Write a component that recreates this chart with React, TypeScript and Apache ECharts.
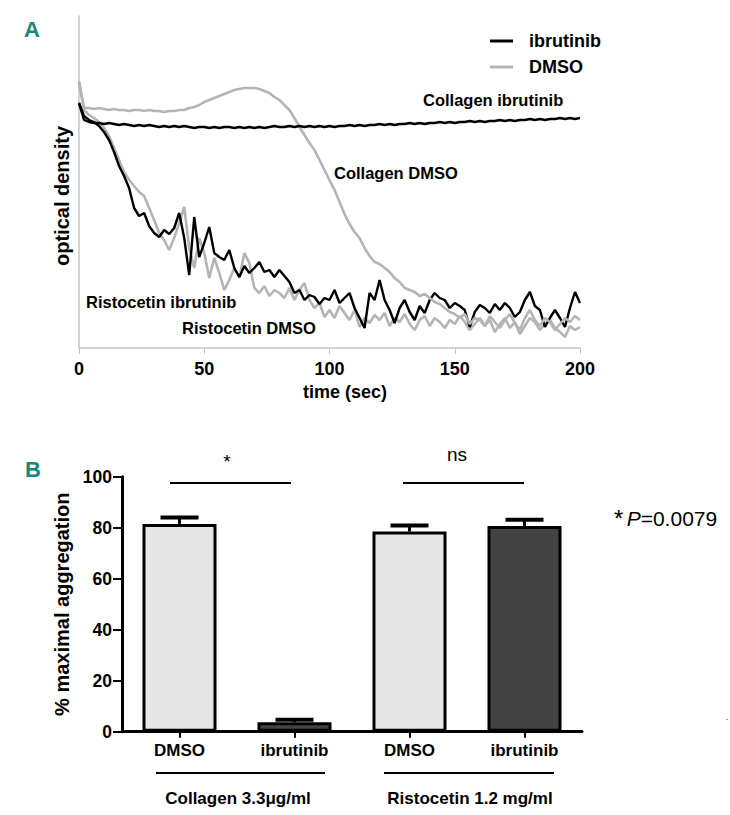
import React, { useEffect, useRef } from "react";
import * as echarts from "echarts";

// ---------- Panel A: aggregation traces (optical density, arbitrary units) ----------
const TIME_STEP = 2; // seconds between samples
const X_TICKS_A = [0, 50, 100, 150, 200];

const RISTO_IBRUTINIB = [
  245, 232, 228, 226, 222, 216, 208, 196, 182, 172,
  160, 140, 132, 135, 122, 115, 111, 118, 114, 120,
  135, 110, 73, 131, 91, 105, 121, 95, 91, 88,
  98, 80, 71, 82, 75, 80, 86, 76, 78, 71,
  78, 72, 66, 55, 58, 48, 53, 51, 44, 50,
  48, 58, 45, 50, 55, 40, 30, 20, 55, 48,
  68, 48, 38, 25, 40, 48, 36, 28, 42, 35,
  48, 55, 50, 48, 40, 45, 42, 38, 21, 36,
  43, 40, 35, 44, 38, 45, 40, 31, 36, 48,
  56, 42, 38, 21, 30, 38, 30, 21, 40, 56,
  45,
];

const RISTO_DMSO = [
  265, 238, 233, 230, 226, 220, 212, 200, 188, 176,
  168, 162, 156, 152, 140, 128, 115, 108, 98, 110,
  125, 141, 100, 80, 110, 95, 70, 90, 75, 58,
  68, 80, 70, 95, 85, 60, 55, 62, 52, 58,
  55, 50, 60, 48, 58, 65, 48, 40, 45, 31,
  38, 30, 42, 35, 28, 38, 21, 30, 25, 33,
  28, 35, 22, 30, 26, 34, 24, 18, 28, 32,
  22, 30, 26, 20, 28, 24, 32, 26, 18, 24,
  30, 22, 28, 16, 24, 30, 20, 26, 14, 22,
  30, 26, 18, 24, 28, 20, 16, 11, 22, 18,
  21,
];

const COLLAGEN_DMSO = [
  267, 240, 240, 239, 240, 239, 238, 239, 238, 238,
  237, 238, 238, 237, 238, 237, 237, 236, 237, 237,
  238, 238, 240, 241, 243, 246, 248, 250, 252, 254,
  256, 258, 259, 260, 260, 260, 259, 257, 255, 251,
  248, 243, 238, 230, 221, 213, 205, 198, 188, 178,
  168, 158, 146, 134, 124, 116, 110, 100, 92, 86,
  84, 80, 76, 70, 66, 60, 58, 56, 52, 54,
  50, 46, 44, 40, 36, 34, 30, 34, 24, 30,
  28, 22, 32, 26, 20, 28, 34, 25, 18, 30,
  38, 28, 22, 30, 26, 18, 24, 30, 26, 32,
  28,
];

const COLLAGEN_IBRUTINIB = [
  245, 228, 226, 225, 225, 224, 225, 224, 223, 224,
  223, 222, 223, 222, 223, 222, 221, 222, 221, 222,
  221, 222, 221, 220, 221, 221, 220, 221, 220, 221,
  221, 220, 221, 220, 221, 220, 221, 220, 221, 222,
  221, 221, 222, 221, 222, 221, 222, 221, 222, 221,
  222, 221, 222, 222, 223, 222, 223, 222, 223, 223,
  224, 223, 224, 223, 224, 224, 225, 224, 225, 224,
  225, 225, 226, 225, 226, 225, 226, 226, 227, 226,
  227, 226, 227, 227, 228, 227, 228, 227, 228, 228,
  229, 228, 229, 228, 229, 229, 230, 229, 230, 229,
  230,
];

// ---------- Panel B: % maximal aggregation ----------
const BAR_CATEGORIES = ["DMSO", "ibrutinib", "DMSO ", "ibrutinib "];
const BAR_LABELS = ["DMSO", "ibrutinib", "DMSO", "ibrutinib"];
const BAR_MEANS = [81.5, 3.7, 78.5, 80.7];
const BAR_ERRORS = [2.5, 1.0, 2.4, 2.4];
const BAR_COLORS = ["#e6e6e6", "#434343", "#e6e6e6", "#434343"];
const Y_TICKS_B = [0, 20, 40, 60, 80, 100];

const FONT = "'Liberation Sans', Arial, sans-serif";
const TEAL = "#17877f";
const GREY = "#b4b4b4";

const toPairs = (arr: number[]) => arr.map((v, i) => [i * TIME_STEP, v]);

export default function App() {
  const ref = useRef<HTMLDivElement>(null);

  useEffect(() => {
    if (!ref.current) return;
    const chart = echarts.init(ref.current, undefined, { renderer: "svg" });

    const lineCommon = {
      type: "line" as const,
      xAxisIndex: 0,
      yAxisIndex: 0,
      showSymbol: false,
      symbol: "none",
      smooth: false,
    };

    const boldText = (
      text: string,
      x: number,
      y: number,
      size: number,
      align: string = "left",
      extra: any = {}
    ) => ({
      type: "text",
      x,
      y,
      style: {
        text,
        fontSize: size,
        fontWeight: "bold",
        fontFamily: FONT,
        fill: "#000",
        textAlign: align,
        textVerticalAlign: "middle",
        ...extra,
      },
    });

    const hLine = (x1: number, x2: number, y: number, w = 2) => ({
      type: "line",
      shape: { x1, y1: y, x2, y2: y },
      style: { stroke: "#000", lineWidth: w },
    });

    const option: any = {
      animation: false,
      backgroundColor: "#fff",
      textStyle: { fontFamily: FONT },
      legend: {
        data: ["ibrutinib", "DMSO"],
        orient: "vertical",
        left: 485,
        top: 27,
        icon: "rect",
        itemWidth: 23,
        itemHeight: 3,
        itemGap: 8,
        textStyle: {
          fontSize: 18,
          fontWeight: "bold",
          color: "#000",
          fontFamily: FONT,
          padding: [0, 0, 0, 11],
        },
      },
      grid: [
        { left: 79, width: 501, top: 16, height: 332 },
        { left: 122, width: 460, top: 476.7, height: 255 },
      ],
      xAxis: [
        {
          type: "value",
          gridIndex: 0,
          min: X_TICKS_A[0],
          max: X_TICKS_A[X_TICKS_A.length - 1],
          interval: 50,
          axisLine: { show: true, lineStyle: { color: "#c4c4c4", width: 1.5 } },
          axisTick: { show: true, length: 6, lineStyle: { color: "#c4c4c4", width: 1 } },
          axisLabel: {
            fontSize: 18,
            fontWeight: "bold",
            color: "#000",
            margin: 12,
            fontFamily: FONT,
          },
          splitLine: { show: false },
        },
        {
          type: "category",
          gridIndex: 1,
          data: BAR_CATEGORIES,
          axisLine: { show: true, lineStyle: { color: "#000", width: 3 } },
          axisTick: {
            show: true,
            alignWithLabel: true,
            length: 6,
            lineStyle: { color: "#000", width: 2 },
          },
          axisLabel: {
            fontSize: 17,
            fontWeight: "bold",
            color: "#000",
            margin: 10,
            fontFamily: FONT,
            formatter: (_v: string, i: number) => BAR_LABELS[i],
          },
        },
      ],
      yAxis: [
        {
          type: "value",
          gridIndex: 0,
          min: 0,
          max: 332,
          axisLine: { show: true, lineStyle: { color: "#c4c4c4", width: 1.5 } },
          axisTick: { show: false },
          axisLabel: { show: false },
          splitLine: { show: false },
        },
        {
          type: "value",
          gridIndex: 1,
          min: Y_TICKS_B[0],
          max: Y_TICKS_B[Y_TICKS_B.length - 1],
          interval: 20,
          name: "% maximal aggregation",
          nameLocation: "middle",
          nameRotate: 90,
          nameGap: 41,
          nameTextStyle: {
            fontSize: 20,
            fontWeight: "bold",
            color: "#000",
            fontFamily: FONT,
          },
          axisLine: { show: true, lineStyle: { color: "#000", width: 3 } },
          axisTick: { show: true, length: 9, lineStyle: { color: "#000", width: 2 } },
          axisLabel: {
            fontSize: 17.5,
            fontWeight: "bold",
            color: "#000",
            margin: 10,
            fontFamily: FONT,
          },
          splitLine: { show: false },
        },
      ],
      series: [
        {
          ...lineCommon,
          name: "DMSO",
          color: GREY,
          lineStyle: { color: GREY, width: 2.6 },
          data: toPairs(RISTO_DMSO),
        },
        {
          ...lineCommon,
          name: "ibrutinib",
          color: "#000",
          lineStyle: { color: "#000", width: 2.4 },
          data: toPairs(RISTO_IBRUTINIB),
        },
        {
          ...lineCommon,
          name: "DMSO",
          color: GREY,
          lineStyle: { color: GREY, width: 2.6 },
          data: toPairs(COLLAGEN_DMSO),
        },
        {
          ...lineCommon,
          name: "ibrutinib",
          color: "#000",
          lineStyle: { color: "#000", width: 2.4 },
          data: toPairs(COLLAGEN_IBRUTINIB),
        },
        {
          type: "custom",
          name: "error",
          xAxisIndex: 1,
          yAxisIndex: 1,
          z: 1,
          data: BAR_MEANS.map((m, i) => [i, m, m + BAR_ERRORS[i]]),
          renderItem: (_params: any, api: any) => {
            const idx = api.value(0);
            const lo = api.coord([idx, api.value(1)]);
            const hi = api.coord([idx, api.value(2)]);
            const half = 19;
            return {
              type: "group",
              children: [
                {
                  type: "line",
                  shape: { x1: lo[0], y1: lo[1], x2: hi[0], y2: hi[1] },
                  style: { stroke: "#000", lineWidth: 3 },
                },
                {
                  type: "line",
                  shape: { x1: hi[0] - half, y1: hi[1], x2: hi[0] + half, y2: hi[1] },
                  style: { stroke: "#000", lineWidth: 4 },
                },
              ],
            };
          },
        },
        {
          type: "bar",
          name: "aggregation",
          xAxisIndex: 1,
          yAxisIndex: 1,
          z: 2,
          barWidth: 74,
          data: BAR_MEANS.map((v, i) => ({
            value: v,
            itemStyle: { color: BAR_COLORS[i], borderColor: "#000", borderWidth: 3 },
          })),
        },
      ],
      graphic: [
        // Panel letters
        boldText("A", 24, 29, 22, "left", {
          fill: TEAL,
          fontFamily: "'Liberation Sans Narrow', 'Arial Narrow', 'Liberation Sans', sans-serif",
        }),
        boldText("B", 25, 469, 22, "left", {
          fill: TEAL,
          fontFamily: "'Liberation Sans Narrow', 'Arial Narrow', 'Liberation Sans', sans-serif",
        }),
        // Panel A axis titles
        {
          type: "text",
          x: 62,
          y: 196,
          rotation: Math.PI / 2,
          style: {
            text: "optical density",
            fontSize: 20,
            fontWeight: "bold",
            fontFamily: FONT,
            fill: "#000",
            textAlign: "center",
            textVerticalAlign: "middle",
          },
        },
        boldText("time (sec)", 345, 392, 18, "center"),
        // Panel A curve labels
        boldText("Collagen ibrutinib", 423, 100, 16.5),
        boldText("Collagen DMSO", 334, 173, 16.5),
        boldText("Ristocetin ibrutinib", 86, 302, 16.5),
        boldText("Ristocetin DMSO", 182, 328, 16.5),
        // Panel B significance
        hLine(170, 291, 483),
        hLine(403, 524, 483),
        {
          type: "text",
          x: 227,
          y: 461,
          style: {
            text: "*",
            fontSize: 19,
            fontFamily: FONT,
            fill: "#000",
            textAlign: "center",
            textVerticalAlign: "middle",
          },
        },
        {
          type: "text",
          x: 457,
          y: 454,
          style: {
            text: "ns",
            fontSize: 19,
            fontFamily: FONT,
            fill: "#000",
            textAlign: "center",
            textVerticalAlign: "middle",
          },
        },
        {
          type: "text",
          x: 614,
          y: 518,
          style: {
            text: "{s|*} {p|P}{n|=0.0079}",
            fontFamily: FONT,
            fill: "#000",
            textAlign: "left",
            textVerticalAlign: "middle",
            rich: {
              s: { fontSize: 24, fontFamily: FONT, fill: "#000", verticalAlign: "top" },
              p: { fontSize: 21, fontFamily: FONT, fontStyle: "italic", fill: "#000" },
              n: { fontSize: 21, fontFamily: FONT, fill: "#000" },
            },
          },
        },
        // Panel B group lines and labels
        hLine(156, 325, 773),
        hLine(384, 554, 773),
        boldText("Collagen 3.3\u03bcg/ml", 238, 798, 17, "center"),
        boldText("Ristocetin 1.2 mg/ml", 470, 798, 17, "center"),
        {
          type: "text",
          x: 727,
          y: 716,
          style: { text: ".", fontSize: 10, fontFamily: FONT, fill: "#444", textAlign: "center", textVerticalAlign: "middle" },
        },
      ],
    };

    chart.setOption(option);
    return () => chart.dispose();
  }, []);

  return (
    <div
      ref={ref}
      style={{
        position: "fixed",
        left: 0,
        top: 0,
        width: 730,
        height: 815,
        background: "#fff",
      }}
    />
  );
}
